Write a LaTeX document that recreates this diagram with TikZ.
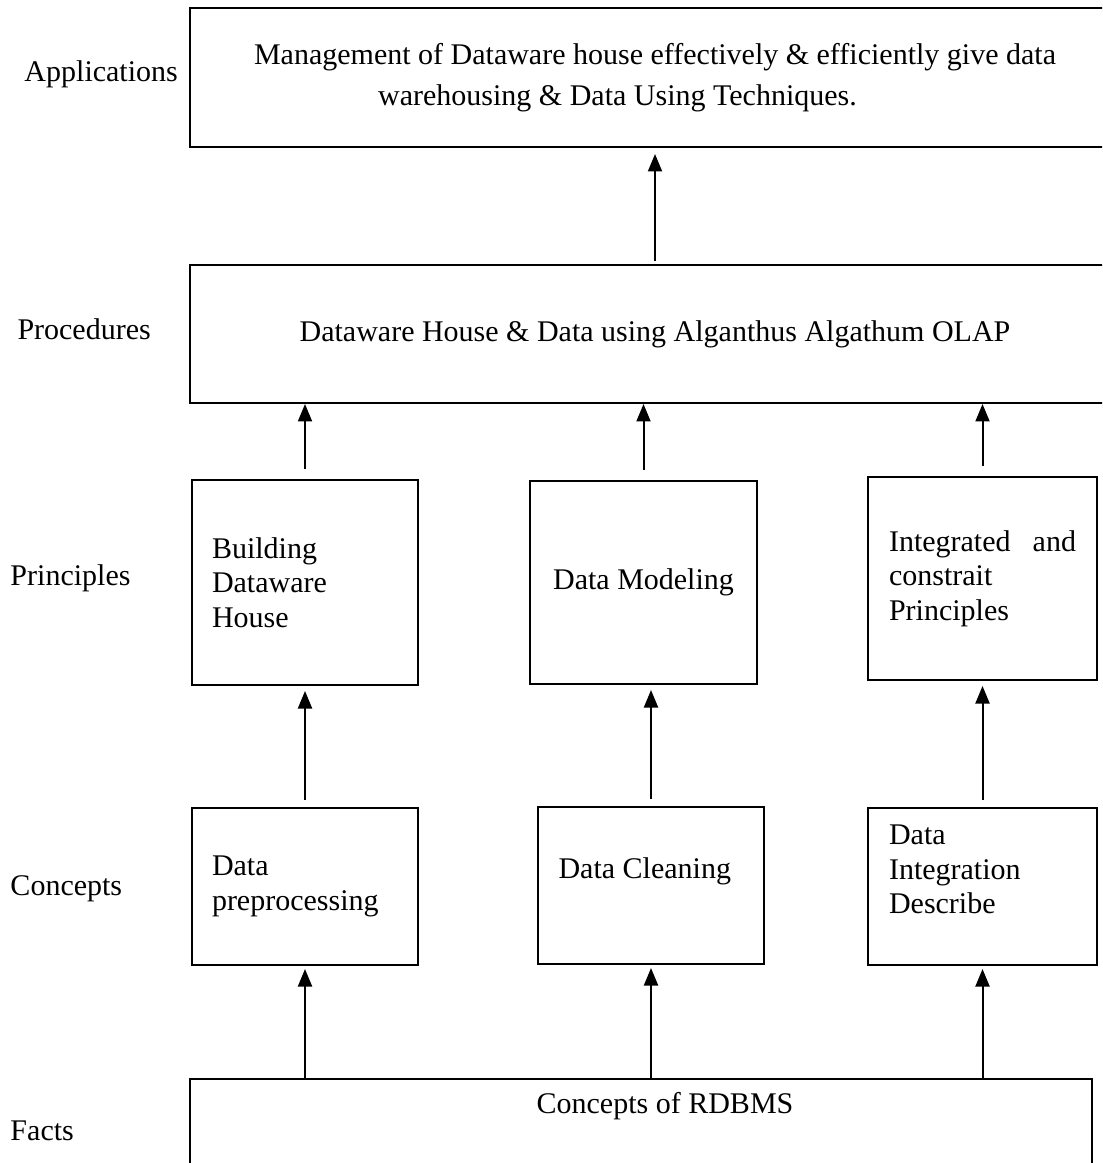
\documentclass[tikz,border=0pt]{standalone}
\usepackage{fontspec}
\setmainfont{Liberation Serif}
\usetikzlibrary{arrows.meta, positioning}

\begin{document}
\begin{tikzpicture}[
	x=0.4pt, y=-0.4pt,
	every node/.style={font=\fontsize{12}{13.8}\selectfont},
	box/.style={draw, line width=0.8pt, rectangle, inner sep=0pt},
	layer/.style={anchor=base west, inner sep=0pt},
	arrow/.style={-{Triangle[length=7pt, width=5.6pt]}, line width=0.8pt}
	]
	
	\clip (0,0) rectangle (1102,1163);
	
	% === LAYER NAMES ===
	\node[layer] (lapp) at (24,82) {Applications};
	\node[layer] (lproc) at (17,340) {Procedures};
	\node[layer] (lpri) at (10,585) {Principles};
	\node[layer] (lcon) at (10,895) {Concepts};
	\node[layer] (lfact) at (10,1140) {Facts};
	
	% === WIDE BOXES ===
	\node[box, minimum width=372pt, minimum height=55.6pt, align=center] 
	(app) at (655,77.5) {Management of Dataware house effectively \& efficiently give data\\[2.6pt]
		warehousing \& Data Using Techniques.\hspace*{30pt}};
	\node[box, minimum width=372pt, minimum height=55.2pt] 
	(proc) at (655,334) {Dataware House \& Data using Alganthus Algathum OLAP};
	
	% === PRINCIPLES ===
	\node[box, minimum width=90.4pt, minimum height=82pt, text width=74.4pt, align=left] 
	(pri1) at (305,582.5) {Building\\Dataware\\House};
	\node[box, minimum width=90.8pt, minimum height=81.2pt] 
	(pri2) at (643.5,582.5) {Data Modeling};
	\node[box, minimum width=91.6pt, minimum height=81.2pt, text width=74.8pt, align=left] 
	(pri3) at (982.5,578.5) {Integrated\hfill and\\constrait\\Principles};
	
	% === CONCEPTS ===
	\node[box, minimum width=90.4pt, minimum height=62.8pt, text width=74.4pt, align=left] 
	(con1) at (305,886.5) {Data\\preprocessing};
	\node[box, minimum width=90.4pt, minimum height=62.8pt, align=center] 
	(con2) at (651,885.5) {Data Cleaning\hspace*{5pt}\\\mbox{}};
	\node[box, minimum width=91.6pt, minimum height=62.8pt, text width=74.8pt, align=left] 
	(con3) at (982.5,886.5) {Data\\Integration\\Describe\\\mbox{}};
	
	% === FACTS ===
	\node[box, anchor=north, minimum width=360.8pt, inner ysep=5.5pt, text depth=80pt] 
	(facts) at (641,1078) {\hspace*{19.2pt}Concepts of RDBMS};
	
	% === ARROWS ===
	% facts -> concepts
	\foreach \c in {con1,con2,con3} {
		\draw[arrow, shorten >=1.2pt] (\c.south |- facts.north) -- (\c.south);
	}
	% concepts -> principles
	\foreach \c/\p in {con1/pri1, con2/pri2, con3/pri3} {
		\draw[arrow, shorten <=2.8pt, shorten >=2pt] (\c.north) -- (\c.north |- \p.south);
	}
	% principles -> procedures
	\foreach \p in {pri1,pri2,pri3} {
		\draw[arrow, shorten <=4pt] (\p.north) -- (\p.north |- proc.south);
	}
	% procedures -> applications
	\draw[arrow, shorten <=1.2pt, shorten >=2.4pt] (proc.north) -- (app.south);
	
\end{tikzpicture}
\end{document}
